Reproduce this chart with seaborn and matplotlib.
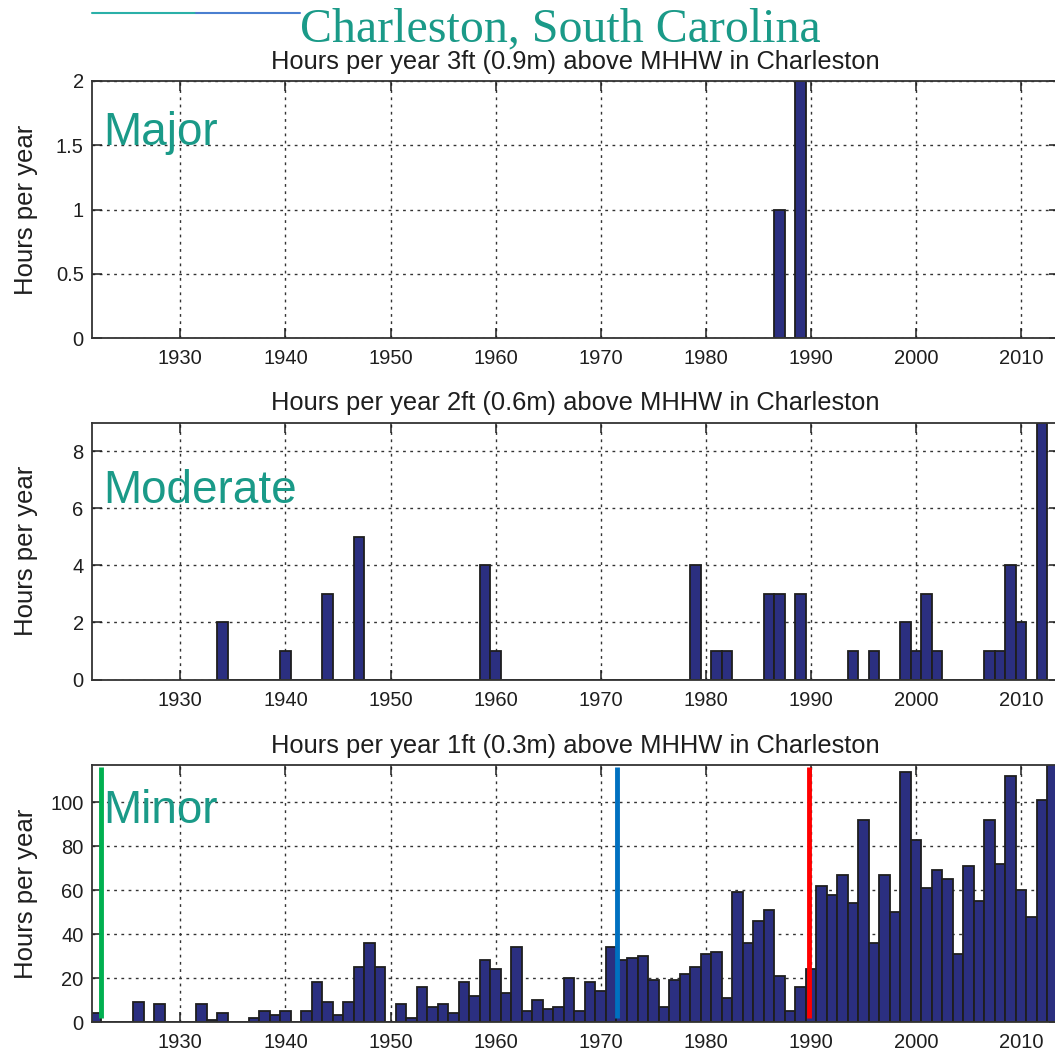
import numpy as np
import pandas as pd
import matplotlib
matplotlib.use("Agg")
import matplotlib.pyplot as plt
import seaborn as sns

# ---------------- data ----------------
major_years = [1987, 1989]
major_hours = [1, 2]

moderate_years = [1934, 1940, 1944, 1947, 1959, 1960, 1979, 1981, 1982, 1986,
                  1987, 1989, 1994, 1996, 1999, 2000, 2001, 2002, 2007, 2008,
                  2009, 2010, 2012]
moderate_hours = [2, 1, 3, 5, 4, 1, 4, 1, 1, 3,
                  3, 3, 1, 1, 2, 1, 3, 1, 1, 1,
                  4, 2, 9]

minor_years = list(range(1922, 2014))
minor_hours = [4, 0, 0, 0, 9, 0, 8, 0, 0, 0,          # 1922-1931
               8, 1, 4, 0, 0, 2, 5, 3, 5, 0,          # 1932-1941
               5, 18, 9, 3, 9, 25, 36, 25, 0, 8,      # 1942-1951
               2, 16, 7, 8, 4, 18, 12, 28, 24, 13,    # 1952-1961
               34, 5, 10, 6, 7, 20, 5, 18, 14, 34,    # 1962-1971
               28, 29, 30, 19, 7, 19, 22, 25, 31, 32, # 1972-1981
               11, 59, 36, 46, 51, 21, 5, 16, 24, 62, # 1982-1991
               58, 67, 54, 92, 36, 67, 50, 114, 83, 61,  # 1992-2001
               69, 65, 31, 71, 55, 92, 72, 112, 60, 48,  # 2002-2011
               101, 120]                              # 2012-2013

panel_titles = ["Hours per year 3ft (0.9m) above MHHW in Charleston",
                "Hours per year 2ft (0.6m) above MHHW in Charleston",
                "Hours per year 1ft (0.3m) above MHHW in Charleston"]
panel_labels = ["Major", "Moderate", "Minor"]
ylims = [2, 9, 117]
yticks = [[0, 0.5, 1, 1.5, 2], [0, 2, 4, 6, 8], [0, 20, 40, 60, 80, 100]]
yticklabels = [["0", "0.5", "1", "1.5", "2"], ["0", "2", "4", "6", "8"],
               ["0", "20", "40", "60", "80", "100"]]
xticks = [1930, 1940, 1950, 1960, 1970, 1980, 1990, 2000, 2010]

marker_years = [1922.5, 1971.55, 1989.8]
marker_colors = ["#00B050", "#0070C0", "#FF0000"]

main_title = "Charleston, South Carolina"

# ---------------- style ----------------
sns.set_theme(style="white")
plt.rcParams["font.family"] = ["Liberation Sans", "DejaVu Sans"]

BAR = "#2B2F80"
EDGE = "#1E1E1E"
TEAL = "#1A9A88"
TXT = "#1E1E1E"

W, H = 1055, 1054
fig = plt.figure(figsize=(W / 100, H / 100), dpi=100)

left = 92 / W
width = (1059 - 92) / W
ax_h = 257 / H
bottoms_px = [338, 679.5, 1022]

datasets = [(major_years, major_hours), (moderate_years, moderate_hours),
            (minor_years, minor_hours)]
label_baselines = [145, 503, 823]

axes = []
for i, ((yrs, hrs), bpx) in enumerate(zip(datasets, bottoms_px)):
    ax = fig.add_axes([left, 1 - bpx / H, width, ax_h])
    axes.append(ax)
    df = pd.DataFrame({"year": yrs, "hours": hrs})
    sns.histplot(data=df, x="year", weights="hours", discrete=True, ax=ax,
                 color=BAR, edgecolor=EDGE, linewidth=1.3, alpha=1.0,
                 fill=True, zorder=2)
    ax.set_xlim(1921.6, 2013.6)
    ax.set_ylim(0, ylims[i])
    ax.set_xticks(xticks)
    ax.set_xticklabels([str(t) for t in xticks])
    ax.set_yticks(yticks[i])
    ax.set_yticklabels(yticklabels[i])
    ax.set_axisbelow(True)
    ax.grid(True, linestyle=(0, (2, 3.2)), color="#333333", linewidth=1.0)
    ax.tick_params(direction="in", length=7, width=1.1, top=True, right=True,
                   bottom=True, left=True, labelsize=14.5, colors=TXT,
                   pad=8)
    ax.tick_params(axis="y", pad=6)
    for s in ax.spines.values():
        s.set_color("#333333")
        s.set_linewidth(1.3)
        s.set_visible(True)
    ax.set_xlabel("")
    ax.set_ylabel("Hours per year", fontsize=18.5, color=TXT)
    ax.yaxis.set_label_coords(-0.056, 0.5)
    ax.set_title(panel_titles[i], fontsize=18.4, color=TXT, pad=9)
    fig.text(103 / W, 1 - label_baselines[i] / H, panel_labels[i],
             fontsize=33, color=TEAL, ha="left", va="baseline")

# vertical marker lines on the minor panel
axb = axes[2]
for xv, c in zip(marker_years, marker_colors):
    axb.vlines(xv, 2, 116, colors=c, linewidth=3.5, zorder=5)

# main title with decorative line
fig.text(300 / W, 1 - 41 / H, main_title, fontsize=34.5, color=TEAL,
         family=["Liberation Serif", "DejaVu Serif"], ha="left", va="baseline")
fig.add_artist(plt.Line2D([92 / W, 196 / W], [1 - 13 / H, 1 - 13 / H],
                          color="#2AB0A8", linewidth=1.5))
fig.add_artist(plt.Line2D([196 / W, 300 / W], [1 - 13 / H, 1 - 13 / H],
                          color="#4A7FD0", linewidth=1.5))

fig.savefig("out.png", dpi=100)
